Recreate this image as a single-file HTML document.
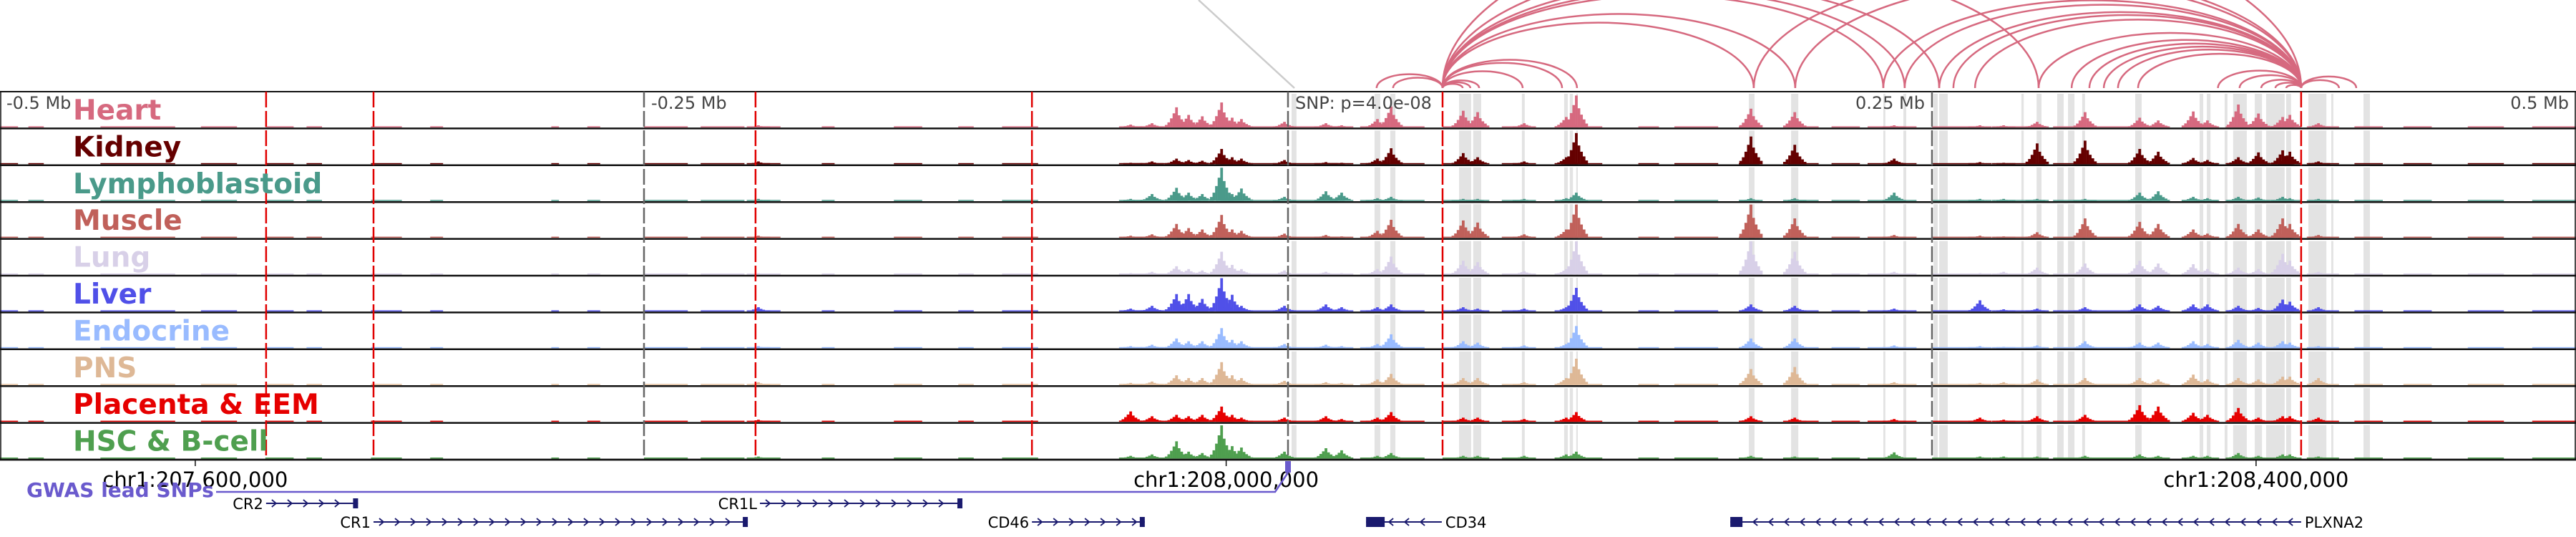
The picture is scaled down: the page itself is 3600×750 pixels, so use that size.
<!DOCTYPE html>
<html><head><meta charset="utf-8"><style>
html,body{margin:0;padding:0;background:#fff;}
svg{display:block;font-family:"DejaVu Sans","Liberation Sans",sans-serif;}
</style></head><body>
<svg id="chart" width="3600" height="750" viewBox="0 0 3600 750" xmlns="http://www.w3.org/2000/svg">
<g id="bands"></g>
<g id="signals"></g>
<g id="frames"></g>
<g id="vlines"></g>
<g id="arcs"></g>
<g id="labels"></g>
<g id="axis"></g>
<g id="genes"></g>
</svg>
<script>
// ---- data (positions in kb relative to lead SNP, chr1:208,024,000) ----
const tissues = ["Heart","Kidney","Lymphoblastoid","Muscle","Lung","Liver","Endocrine","PNS","Placenta & EEM","HSC & B-cell"];
const tissueColors = ["#d6697f","#650000","#4a9a8a","#c0605a","#d8d0e8","#5050e8","#99bbff","#deb896","#e60000","#4f9f4f"];
const peakPos = [-61.1,-52.8,-43.3,-38.6,-33.3,-25.8,-21.7,-18.1,-1.4,14.7,20.8,34.7,40,68,73.6,91.7,108,111.9,179.7,196.7,235.3,268.6,290.8,309.4,330.6,337.8,351.4,356.9,368.9,376.7,386.1,388.9,400,-205.6,277.8];
const heartVals = [4,6,29,18,16,36,14,12,8,6,3,12,30,24,22,6,15,46,27,22,3,3,8,22,14,10,23,10,33,20,15,18,6,3,3];
const kidneyVals = [2,4,8,6,5,22,10,8,6,3,2,8,23,16,10,4,10,45,40,28,8,3,30,34,22,18,9,6,10,17,20,18,4,4,2];
const lymphoVals = [3,10,19,12,10,48,10,18,6,14,12,4,6,3,3,3,4,12,4,4,12,3,3,3,12,14,6,4,6,5,6,4,3,3,3];
const muscleVals = [3,5,20,14,12,33,12,10,6,4,2,10,26,25,22,5,12,48,48,28,4,3,8,28,23,20,12,6,20,12,28,20,4,3,2];
const lungVals = [2,4,12,8,6,33,14,8,6,4,2,8,26,20,18,5,8,48,48,33,4,2,10,16,20,16,15,8,10,8,30,20,4,2,4];
const liverVals = [4,8,25,25,18,48,24,8,8,10,6,6,10,6,4,4,6,34,10,8,4,16,4,6,10,8,10,10,8,5,17,14,6,6,3];
const endocrineVals = [3,5,14,10,10,29,12,10,6,5,3,6,20,10,8,4,6,32,14,14,4,3,4,10,8,8,10,6,12,8,10,8,3,3,2];
const pnsVals = [3,5,14,10,10,33,14,10,6,4,3,8,16,10,10,4,10,38,23,26,4,3,8,10,10,8,15,8,10,8,12,12,10,4,4];
const placentaVals = [15,8,10,8,10,22,10,6,6,8,4,6,14,6,6,4,6,14,8,6,4,6,8,10,24,22,13,10,20,6,8,8,6,3,3];
const hscVals = [4,6,25,10,8,48,18,16,10,15,12,4,8,4,4,4,6,10,4,3,9,3,3,4,6,4,4,4,8,4,6,6,3,3,3];
const baselineSegs = [[-500,-493],[-489,-483],[-461,-432],[-422,-408],[-397,-386],[-381,-375],[-356,-344],[-333,-328],[-286,-283],[-272,-267],[-250,-233],[-228,-211],[-206,-197],[-181,-176],[-153,-142],[-128,-122],[-111,-97],[-64,-31],[-28,-3],[0,22],[28,53],[60,76],[83,92],[106,122],[136,144],[150,167],[175,183],[194,206],[211,222],[225,244],[250,269],[275,294],[297,342],[347,361],[364,390],[396,408],[414,425],[433,444],[458,472],[483,500]];
const bandRanges = [[1.4,3.3],[33.6,35.8],[39.7,41.7],[66.4,71.1],[71.9,75],[90.8,91.9],[107.2,108.6],[109.4,110.6],[111.9,112.5],[178.9,181.1],[195.3,198.1],[231.1,231.9],[238.9,240],[250.6,252.2],[252.8,256.1],[284.7,285.6],[290.6,292.5],[298.6,301.1],[302.8,305.3],[308.3,309.4],[328.9,331.4],[353.9,355.3],[356.7,358.1],[363.6,364.7],[366.9,372.2],[375.3,378.1],[379.7,386.9],[387.5,389.4],[396.1,403.1],[405,405.8],[417.5,420]];
const arcPairs = [[34.4,60],[40.8,60],[60,67.8],[60,70.8],[60,74.2],[60,91.1],[60,106.4],[60,112.2],[60,180.8],[60,196.9],[60,231.1],[60,239.4],[60,252.8],[60,291.4],[60,393.3],[180.8,393.3],[196.9,393.3],[231.1,393.3],[239.4,393.3],[252.8,393.3],[258.3,393.3],[266.7,393.3],[291.4,393.3],[304.2,393.3],[311.1,393.3],[316.7,393.3],[322.2,393.3],[330,393.3],[361,393.3],[369.4,393.3],[377.8,393.3],[383.3,393.3],[387.5,393.3],[393.3,414.7],[393.3,408]];
const redMarkers = [-396.7,-355,-206.7,-99.4,60,393.3];
const grayMarkers = [-250,0,250];
const tickPos = [-424.2,-24,375.8];
const tickLabels = ["chr1:207,600,000","chr1:208,000,000","chr1:208,400,000"];
const geneNames = ["CR2","CR1","CR1L","CD46","CD34","PLXNA2"];
const geneStart = [-396.7,-355,-205,-99.4,30.3,171.7];
const geneEnd = [-361,-209.7,-126.4,-55.6,59.7,393.3];
const geneStrand = [1,1,1,1,-1,-1];
const geneRow = [0,1,0,1,1,1];

const allVals = [heartVals,kidneyVals,lymphoVals,muscleVals,lungVals,liverVals,endocrineVals,pnsVals,placentaVals,hscVals];
const NS="http://www.w3.org/2000/svg";
const X = kb => 1800 + kb*3.6;
const TOP=128, TH=51.4;
const Y = v => v*(TH-5)/48;
function el(tag, attrs, parent){const e=document.createElementNS(NS,tag);for(const k in attrs)e.setAttribute(k,attrs[k]);parent.appendChild(e);return e;}
const gB=document.getElementById('bands'),gS=document.getElementById('signals'),gF=document.getElementById('frames'),gV=document.getElementById('vlines'),gA=document.getElementById('arcs'),gL=document.getElementById('labels'),gX=document.getElementById('axis'),gG=document.getElementById('genes');
const shape=[0.12,0.25,0.45,0.7,1,0.6,0.4,0.25,0.12];

for(let t=0;t<tissues.length;t++){
  const top=TOP+t*TH, bot=top+TH-1.5;
  bandRanges.forEach(b=>{
    const r=el('rect',{x:X(b[0]),y:top+3,width:Math.max(2,X(b[1])-X(b[0])),height:TH-4,fill:'#e3e3e3'},gB);
    
    
  });
  const g=el('g',{fill:tissueColors[t]},gS);
  
  
  baselineSegs.forEach(s=>{
    const r=el('rect',{x:X(s[0]),y:bot-1.5,width:X(s[1])-X(s[0]),height:1.5},g);
    
    
  });
  peakPos.forEach((p,i)=>{
    const h=allVals[t][i];
    for(let d=-4;d<=4;d++){
      const hh=Math.max(1.5,Y(h)*shape[d+4]);
      const r=el('rect',{x:X(p+d*1.0)-1.8,y:bot-hh,width:3.8,height:hh},g);
      
      
    }
  });
  const ln=el('line',{x1:0,x2:3600,y1:top+TH,y2:top+TH,stroke:'#111','stroke-width':2.5},gF);
  
  
  const tx=el('text',{x:102,y:top+39,'font-size':39,'font-weight':'bold',fill:tissueColors[t]},gL);
  tx.textContent=tissues[t];
  
  
}
let fr=el('line',{x1:0,x2:3600,y1:TOP,y2:TOP,stroke:'#111','stroke-width':2},gF);

fr=el('line',{x1:1,x2:1,y1:TOP,y2:TOP+10*TH,stroke:'#111','stroke-width':1.5},gF);

fr=el('line',{x1:3599,x2:3599,y1:TOP,y2:TOP+10*TH,stroke:'#111','stroke-width':1.5},gF);


redMarkers.forEach(m=>{
  const l=el('line',{x1:X(m),x2:X(m),y1:TOP,y2:TOP+10*TH,stroke:'#e00000','stroke-width':2.5,'stroke-dasharray':'22,5'},gV);
  
  
});
grayMarkers.forEach(m=>{
  const l=el('line',{x1:X(m),x2:X(m),y1:TOP,y2:TOP+10*TH,stroke:'#666','stroke-width':2.5,'stroke-dasharray':'22,5'},gV);
  
  
});
const distLabels=[["-0.5 Mb",9,'start'],["-0.25 Mb",910,'start'],["SNP: p=4.0e-08",1810,'start'],["0.25 Mb",2690,'end'],["0.5 Mb",3590,'end']];
distLabels.forEach(d=>{
  const t=el('text',{x:d[1],y:152,'font-size':24,fill:'#444','text-anchor':d[2]},gL);
  t.textContent=d[0];
  
  
});

const gl=el('line',{x1:1675,y1:0,x2:1809,y2:123,stroke:'#cccccc','stroke-width':2.5},gA);


arcPairs.forEach(a=>{
  const x1=X(a[0]),x2=X(a[1]),w=x2-x1;
  const p=el('path',{d:`M${x1},123 A${w/2},${w*0.21} 0 0 1 ${x2},123`,fill:'none',stroke:'#d6697f','stroke-width':2.5},gA);
  
  
});

const ax=el('line',{x1:0,x2:3600,y1:TOP+10*TH,y2:TOP+10*TH,stroke:'#111','stroke-width':2.5},gX);

tickPos.forEach((t,i)=>{
  const l=el('line',{x1:X(t),x2:X(t),y1:TOP+10*TH,y2:TOP+10*TH+9,stroke:'#111','stroke-width':1.5},gX);
  
  const tx=el('text',{x:X(t),y:680,'font-size':29,fill:'#000','text-anchor':'middle'},gX);
  tx.textContent=tickLabels[i];
  
});
const gw=el('path',{d:'M302,687 L1782,687 L1800,660',fill:'none',stroke:'#6a5acd','stroke-width':2.5},gX);

const gb=el('rect',{x:1796,y:644,width:8,height:16,fill:'#6a5acd'},gX);

const gt=el('text',{x:37,y:694,'font-size':28,'font-weight':'bold',fill:'#6a5acd'},gX);
gt.textContent='GWAS lead SNPs';


geneNames.forEach((n,i)=>{
  const y=geneRow[i]?729:703, x1=X(geneStart[i]), x2=X(geneEnd[i]);
  const g=el('g',{stroke:'#1a1a6e',fill:'#1a1a6e'},gG);
  
  
  el('line',{x1:x1,x2:x2,y1:y,y2:y,'stroke-width':2},g);
  let d='';
  for(let x=x1+12;x<x2-8;x+=22){d+= geneStrand[i]>0?`M${x-4},${y-5} L${x+2},${y} L${x-4},${y+5} `:`M${x+4},${y-5} L${x-2},${y} L${x+4},${y+5} `;}
  el('path',{d:d,fill:'none','stroke-width':1.8},g);
  if(geneStrand[i]>0) el('rect',{x:x2-7,y:y-7,width:7,height:14,stroke:'none'},g);
  else el('rect',{x:x1,y:y-7,width:n==='CD34'?26:17,height:14,stroke:'none'},g);
  const t=el('text',{x:geneStrand[i]>0?x1-4:x2+5,y:y+8,'font-size':21,fill:'#000',stroke:'none','text-anchor':geneStrand[i]>0?'end':'start'},g);
  t.textContent=n;
});
</script>
</body></html>
